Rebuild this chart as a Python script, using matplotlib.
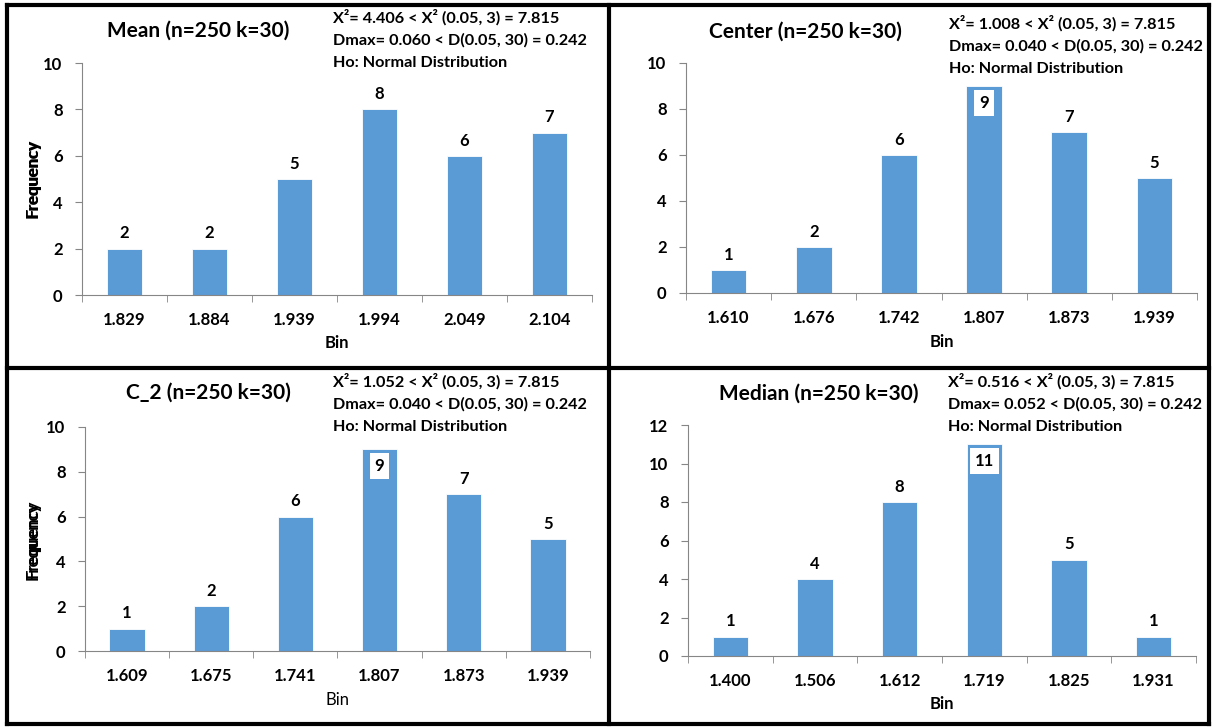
import matplotlib
matplotlib.use("Agg")
import matplotlib.pyplot as plt
from matplotlib.lines import Line2D

plt.rcParams['font.family'] = ['Lato', 'DejaVu Sans']

# data
mean_bins = ['1.829', '1.884', '1.939', '1.994', '2.049', '2.104']
mean_freq = [2, 2, 5, 8, 6, 7]
center_bins = ['1.610', '1.676', '1.742', '1.807', '1.873', '1.939']
center_freq = [1, 2, 6, 9, 7, 5]
c2_bins = ['1.609', '1.675', '1.741', '1.807', '1.873', '1.939']
c2_freq = [1, 2, 6, 9, 7, 5]
median_bins = ['1.400', '1.506', '1.612', '1.719', '1.825', '1.931']
median_freq = [1, 4, 8, 11, 5, 1]

titles = ['Mean (n=250 k=30)', 'Center (n=250 k=30)', 'C_2 (n=250 k=30)', 'Median (n=250 k=30)']
chi2 = ['4.406', '1.008', '1.052', '0.516']
dmax = ['0.060', '0.040', '0.040', '0.052']
ymax = [10, 10, 10, 12]

W, H = 1213, 727
BLUE = '#5B9BD5'
GREY = '#868686'

fig = plt.figure(figsize=(W / 100, H / 100), dpi=100)


def fx(x):
    return x / W


def fy(y):
    return 1 - y / H


# axes boxes in pixels: left, right, y of zero, y of top
boxes = [(82, 592, 295, 63), (686, 1197, 293, 63),
         (85, 590, 651, 427), (688, 1196, 656, 425)]
# title centre, note left/top, bin label y
title_pos = [(198, 31), (805, 32), (208, 393), (819, 394)]
note_pos = [(333, 17), (949, 23), (333, 381), (948, 381)]
bin_y = [343, 342, 700, 704]

all_bins = [mean_bins, center_bins, c2_bins, median_bins]
all_freq = [mean_freq, center_freq, c2_freq, median_freq]

for i in range(4):
    l, r, y0, y1 = boxes[i]
    ax = fig.add_axes([fx(l), fy(y0), fx(r - l), (y0 - y1) / H])
    bins = all_bins[i]
    freq = all_freq[i]
    xs = range(len(bins))
    ax.bar(xs, freq, width=0.42, color=BLUE, edgecolor='white', linewidth=0.6)
    ax.set_xlim(-0.5, len(bins) - 0.5)
    ax.set_ylim(0, ymax[i])
    ax.set_yticks(range(0, ymax[i] + 1, 2))
    ax.set_xticks(list(xs))
    ax.set_xticklabels(bins)
    ax.set_xticks([k - 0.5 for k in range(len(bins) + 1)], minor=True)
    ax.tick_params(axis='x', which='major', length=0, pad=12, labelsize=12)
    ax.tick_params(axis='x', which='minor', length=5, color=GREY, direction='out')
    ax.tick_params(axis='y', length=5, color=GREY, pad=9, labelsize=12)
    for lab in ax.get_xticklabels() + ax.get_yticklabels():
        lab.set_fontweight('bold')
    for s in ['top', 'right']:
        ax.spines[s].set_visible(False)
    ax.spines['left'].set_color(GREY)
    ax.spines['bottom'].set_color(GREY)
    ax.patch.set_alpha(0)

    top = max(freq)
    for k, v in enumerate(freq):
        if v == top and ymax[i] - v < 1.5:
            ax.annotate(str(v), (k, v), xytext=(0, -12), textcoords='offset points',
                        ha='center', va='center', fontsize=12, fontweight='bold',
                        bbox=dict(boxstyle='square,pad=0.3', fc='white', ec='none'))
        else:
            ax.annotate(str(v), (k, v), xytext=(0, 11), textcoords='offset points',
                        ha='center', va='center', fontsize=12, fontweight='bold')

    fig.text(fx(33), (fy(y0) + fy(y1)) / 2, 'Frequency', rotation=90,
             ha='center', va='center', fontsize=12, fontweight='bold')
    fig.text(fx((l + r) / 2), fy(bin_y[i]), 'Bin', ha='center', va='center',
             fontsize=12, fontweight='normal' if i == 2 else 'bold')

    tx, ty = title_pos[i]
    fig.text(fx(tx), fy(ty), titles[i], ha='center', va='center',
             fontsize=15, fontweight='bold')
    nx, ny = note_pos[i]
    fig.text(fx(nx), fy(ny), 'Χ\u00b2= ' + chi2[i] + ' < Χ\u00b2 (0.05, 3) = 7.815',
             ha='left', va='center', fontsize=11.7, fontweight='bold')
    fig.text(fx(nx), fy(ny + 23), 'Dmax= ' + dmax[i] + ' < D(0.05, 30) = 0.242',
             ha='left', va='center', fontsize=11.7, fontweight='bold')
    fig.text(fx(nx), fy(ny + 46), 'Ho: Normal Distribution',
             ha='left', va='center', fontsize=11.7, fontweight='bold')

# panel frame
lw = 3.0
for xa, ya in [([7, 1209], [5, 5]), ([7, 1209], [724, 724]),
               ([7, 7], [5, 724]), ([1209, 1209], [5, 724]),
               ([609, 609], [5, 724]), ([7, 1209], [368, 368])]:
    fig.add_artist(Line2D([fx(v) for v in xa], [fy(v) for v in ya],
                          color='black', linewidth=lw))

fig.savefig('out.png', dpi=100)
